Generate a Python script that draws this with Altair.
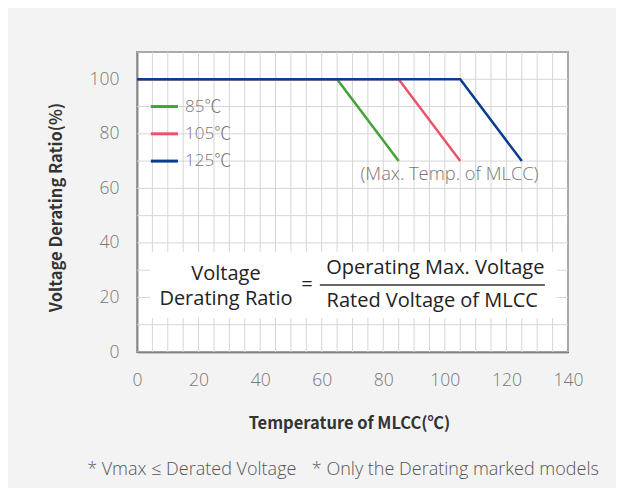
import altair as alt
import pandas as pd

FONT = "Noto Sans CJK KR"
LIGHT = "Open Sans, Noto Sans CJK KR"

# Series
series = ["85℃", "105℃", "125℃"]
colors = ["#3fa535", "#e9546b", "#0b3d8f"]
x85 = [0, 65, 85]
x105 = [0, 85, 105]
x125 = [0, 105, 125]
y_pts = [100, 100, 70]

# Axis ticks / grid
x_grid = [0, 5, 10, 15, 20, 25, 30, 35, 40, 45, 50, 55, 60, 65, 70,
          75, 80, 85, 90, 95, 100, 105, 110, 115, 120, 125, 130, 135, 140]
y_grid = [0, 10, 20, 30, 40, 50, 60, 70, 80, 90, 100, 110]
x_labels = [0, 20, 40, 60, 80, 100, 120, 140]
y_labels = [0, 20, 40, 60, 80, 100]

# Legend
leg_x1 = [4.5, 4.5, 4.5]
leg_x2 = [13.3, 13.3, 13.3]
leg_y = [90, 80, 70]
leg_tx = [15.6, 15.6, 15.6]

# Formula box and texts
box = {"x": [4.2], "x2": [136.4], "y": [12.5], "y2": [36.8]}
frac_line = {"x": [59.4], "x2": [132.5], "y": [24.6]}
formula_text = ["Voltage", "Derating Ratio", "=", "Operating Max. Voltage", "Rated Voltage of MLCC"]
formula_x = [28.9, 28.9, 55.2, 96.9, 95.9]
formula_y = [28.7, 19.4, 24.4, 30.8, 18.6]

note_text = ["(Max. Temp. of MLCC)"]
note_x = [101.5]
note_y = [64.8]

foot_text = ["* Vmax ≤ Derated Voltage", "* Only the Derating marked models"]
foot_x = [-16.2, 56.8]
foot_y = [-43.2, -43.2]

rows = []
for s, xs in zip(series, [x85, x105, x125]):
    for i, (xv, yv) in enumerate(zip(xs, y_pts)):
        rows.append({"series": s, "x": xv, "y": yv, "o": i})
lines_df = pd.DataFrame(rows)

leg_df = pd.DataFrame({"series": series, "x": leg_x1, "x2": leg_x2, "y": leg_y})
leg_t_df = pd.DataFrame({"series": series, "x": leg_tx, "y": leg_y})

xscale = alt.Scale(domain=[0, 140], nice=False, zero=False)
yscale = alt.Scale(domain=[0, 110], nice=False, zero=False)
cscale = alt.Scale(domain=series, range=colors)

x_axis = alt.Axis(values=x_labels, grid=False, labelFlush=False,
                  ticks=False, labelPadding=19, labelFontSize=17.5, labelColor="#777777",
                  labelFont=LIGHT, labelFontWeight=300,
                  domainColor="#333333", domainWidth=1.5,
                  title="Temperature of MLCC(℃)", titleFont=FONT, titleFontSize=16.5,
                  titleFontWeight="bold", titleColor="#333333",
                  titleX=212, titleY=71, titleBaseline="middle", titleAlign="center")
y_axis = alt.Axis(values=y_labels, grid=False, labelFlush=False,
                  ticks=False, labelPadding=18, labelFontSize=17.5, labelColor="#777777",
                  labelFont=LIGHT, labelFontWeight=300,
                  domainColor="#333333", domainWidth=1.5,
                  title="Voltage Derating Ratio(%)", titleFont=FONT, titleFontSize=16.5,
                  titleFontWeight="bold", titleColor="#333333",
                  titleX=-81, titleY=155, titleAngle=-90, titleBaseline="middle", titleAlign="center")

X = alt.X("x:Q", scale=xscale, axis=x_axis)
Y = alt.Y("y:Q", scale=yscale, axis=y_axis)

GRID = "#d6d6d6"
vgrid = alt.Chart(pd.DataFrame({"x": x_grid, "y": [0] * len(x_grid), "y2": [110] * len(x_grid)})).mark_rule(
    color=GRID, strokeWidth=1).encode(x=X, y=Y, y2="y2:Q")
hgrid = alt.Chart(pd.DataFrame({"y": y_grid, "x": [0] * len(y_grid), "x2": [140] * len(y_grid)})).mark_rule(
    color=GRID, strokeWidth=1).encode(x=X, x2="x2:Q", y=Y)

base_lines = alt.Chart(lines_df).mark_line(strokeWidth=2.5, clip=False).encode(
    x=X, y=Y,
    color=alt.Color("series:N", scale=cscale, legend=None),
    order="o:Q",
)
layer_lines = [base_lines.transform_filter(alt.datum.series == s) for s in series]

legend_rules = alt.Chart(leg_df).mark_rule(strokeWidth=3).encode(
    x=X, x2="x2:Q", y=Y,
    color=alt.Color("series:N", scale=cscale, legend=None),
)
legend_text = alt.Chart(leg_t_df).mark_text(align="left", baseline="middle", font=LIGHT,
                                            fontSize=17, fontWeight=300, color="#777777").encode(
    x=X, y=Y, text="series:N")

box_rect = alt.Chart(pd.DataFrame(box)).mark_rect(color="white").encode(
    x=X, x2="x2:Q", y=Y, y2="y2:Q")
frac = alt.Chart(pd.DataFrame(frac_line)).mark_rule(color="#333333", strokeWidth=1.5).encode(
    x=X, x2="x2:Q", y=Y)
formula = alt.Chart(pd.DataFrame({"t": formula_text, "x": formula_x, "y": formula_y})).mark_text(
    align="center", baseline="middle", font=LIGHT, fontSize=20, fontWeight=400, color="#222222").encode(
    x=X, y=Y, text="t:N")
note = alt.Chart(pd.DataFrame({"t": note_text, "x": note_x, "y": note_y})).mark_text(
    align="center", baseline="middle", font=LIGHT, fontSize=18.3, fontWeight=300, color="#777777").encode(
    x=X, y=Y, text="t:N")
foot = alt.Chart(pd.DataFrame({"t": foot_text, "x": foot_x, "y": foot_y})).mark_text(
    align="left", baseline="middle", font=LIGHT, fontSize=18, fontWeight=300, color="#555555",
    clip=False).encode(x=X, y=Y, text="t:N")

chart = alt.layer(
    vgrid, hgrid, box_rect, frac, formula, *layer_lines, legend_rules, legend_text, note, foot
).properties(
    width=431, height=300,
    autosize=alt.AutoSizeParams(type="none"),
    padding={"left": 129, "top": 44, "right": 48, "bottom": 136},
    background="#f3f3f3",
).configure_view(
    fill="white", stroke="#555555", strokeWidth=1.5
)

chart.save("out.html", embed_options={"renderer": "svg", "actions": False})
